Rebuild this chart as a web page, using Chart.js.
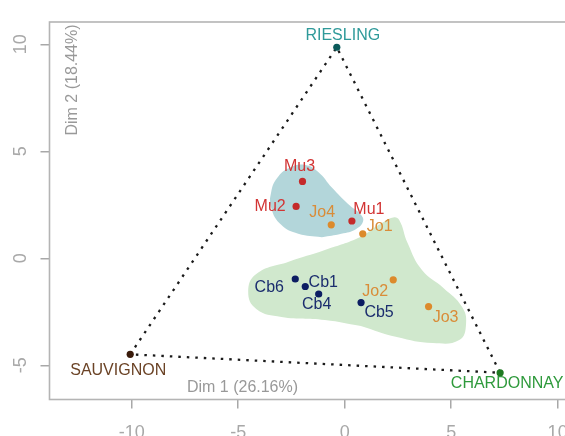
<!DOCTYPE html>
<html lang="fr">
<head>
  <meta charset="UTF-8" />
  <title>AFM - cépages</title>
  <script src="https://cdn.jsdelivr.net/npm/chart.js"></script>
  <style>
    html, body { margin: 0; padding: 0; background: #fff; overflow: hidden; }
    canvas { display: block; }
  </style>
</head>
<body>
  <canvas id="afm" width="620" height="436"></canvas>

  <script>
    // Individus (échantillons) par famille
    const muNames = ['Mu1', 'Mu2', 'Mu3'];
    const muX = [0.34, -2.28, -1.98];
    const muY = [1.74, 2.42, 3.59];

    const joNames = ['Jo1', 'Jo2', 'Jo3', 'Jo4'];
    const joX = [0.85, 2.28, 3.94, -0.63];
    const joY = [1.14, -1.01, -2.26, 1.56];

    const cbNames = ['Cb1', 'Cb4', 'Cb5', 'Cb6'];
    const cbX = [-1.85, -1.22, 0.77, -2.32];
    const cbY = [-1.32, -1.67, -2.07, -0.97];

    // Cépages de référence (sommets du triangle)
    const varietyNames = ['RIESLING', 'SAUVIGNON', 'CHARDONNAY'];
    const varietyX = [-0.37, -10.07, 7.30];
    const varietyY = [9.86, -4.49, -5.35];

    // Contours des groupes (départ au milieu du bord bas)
    const hullMuX = [-1.07, -2.18, -2.98, -3.45, -3.45, -3.17, -2.61, -1.85, -1.24, -0.59, 0.16, 0.73, 0.87, 0.54, -0.16];
    const hullMuY = [0.98, 1.14, 1.56, 2.35, 3.10, 3.75, 4.22, 4.36, 4.03, 3.29, 2.54, 2.07, 1.74, 1.37, 1.14];
    const hullCbX = [0.76, -0.93, -2.97, -4.15, -4.53, -4.15, -2.63, -0.93, 0.76, 1.60, 2.28, 2.56, 2.96, 3.63, 4.65, 5.50, 5.70, 5.38, 4.14, 2.45];
    const hullCbY = [-3.16, -2.88, -2.74, -2.37, -1.57, -0.73, -0.16, 0.39, 1.01, 1.56, 1.91, 1.79, 0.70, -0.55, -1.40, -2.26, -3.07, -3.82, -3.96, -3.68];

    const xTicks = [-10, -5, 0, 5, 10];
    const yTicks = [-5, 0, 5, 10];
    const dim1Label = 'Dim 1 (26.16%)';
    const dim2Label = 'Dim 2 (18.44%)';

    // décalage des étiquettes par rapport au point (px)
    const labelOffset = {
      Mu1: [17, -11], Mu2: [-26, 0], Mu3: [-3, -15],
      Jo1: [17, -7], Jo2: [-18, 12], Jo3: [17, 11], Jo4: [-9, -12],
      Cb1: [18, -4], Cb4: [-2, 11], Cb5: [18, 10], Cb6: [-26, 9],
      RIESLING: [6, -12], SAUVIGNON: [-12, 16], CHARDONNAY: [7, 11]
    };

    const FONT = '"Liberation Sans", Arial, Helvetica, sans-serif';
    const GREY = '#a8a8a8';

    const groups = [
      { names: muNames, xs: muX, ys: muY, dot: '#c42a2a', text: '#d23434' },
      { names: joNames, xs: joX, ys: joY, dot: '#dc8a2c', text: '#d98c38' },
      { names: cbNames, xs: cbX, ys: cbY, dot: '#0c1d62', text: '#1b2d6e' }
    ];
    const varietyDot = ['#0b5b5b', '#3a1b0b', '#1f7a22'];
    const varietyText = ['#2f9a9a', '#6b4326', '#2f9a3c'];

    const toPts = (xs, ys) => xs.map((x, i) => ({ x, y: ys[i] }));
    const closed = pts => pts.concat([pts[0]]);
    const vPts = toPts(varietyX, varietyY);

    // cadre, étiquettes des points et titres des axes dans le cadre
    const annotations = {
      id: 'annotations',
      beforeDatasetsDraw(chart) {
        const { ctx, chartArea: a } = chart;
        ctx.save();
        ctx.strokeStyle = '#b4b4b4';
        ctx.lineWidth = 1.6;
        ctx.strokeRect(a.left, a.top, a.right - a.left, a.bottom - a.top);
        ctx.restore();
      },
      afterDatasetsDraw(chart) {
        const { ctx, chartArea: a, scales: { x, y } } = chart;
        ctx.save();
        ctx.font = '16px ' + FONT;
        ctx.textAlign = 'center';
        ctx.textBaseline = 'middle';
        groups.forEach(g => g.names.forEach((name, i) => {
          const [dx, dy] = labelOffset[name];
          ctx.fillStyle = g.text;
          ctx.fillText(name, x.getPixelForValue(g.xs[i]) + dx, y.getPixelForValue(g.ys[i]) + dy);
        }));
        varietyNames.forEach((name, i) => {
          const [dx, dy] = labelOffset[name];
          ctx.fillStyle = varietyText[i];
          ctx.fillText(name, x.getPixelForValue(varietyX[i]) + dx, y.getPixelForValue(varietyY[i]) + dy);
        });

        ctx.fillStyle = '#999';
        ctx.fillText(dim1Label, a.left + 193, a.bottom - 11.5);
        ctx.translate(a.left + 23, a.top + 58);
        ctx.rotate(-Math.PI / 2);
        ctx.fillText(dim2Label, 0, 0);
        ctx.restore();
      }
    };

    const scatterSets = groups.map(g => ({
      label: g.names.join(','),
      data: toPts(g.xs, g.ys),
      pointRadius: 3.6,
      pointBackgroundColor: g.dot,
      pointBorderWidth: 0,
      order: 1
    }));

    new Chart(document.getElementById('afm'), {
      type: 'scatter',
      data: {
        datasets: [
          ...scatterSets,
          {
            label: 'cépages',
            data: vPts,
            pointRadius: 3.6,
            pointBackgroundColor: varietyDot,
            pointBorderWidth: 0,
            order: 1
          },
          {
            label: 'triangle',
            data: [vPts[1], vPts[0], vPts[2], vPts[1]],
            showLine: true,
            pointRadius: 0,
            borderColor: '#1a1a1a',
            borderWidth: 2.3,
            borderDash: [2.5, 6],
            fill: false,
            order: 5
          },
          {
            label: 'groupe Mu',
            data: closed(toPts(hullMuX, hullMuY)),
            showLine: true,
            fill: 'shape',
            backgroundColor: '#b3d6da',
            borderWidth: 0,
            pointRadius: 0,
            tension: 0.45,
            order: 10
          },
          {
            label: 'groupe Cb',
            data: closed(toPts(hullCbX, hullCbY)),
            showLine: true,
            fill: 'shape',
            backgroundColor: '#d0e8cd',
            borderWidth: 0,
            pointRadius: 0,
            tension: 0.45,
            order: 10
          }
        ]
      },
      options: {
        responsive: false,
        animation: false,
        devicePixelRatio: 1,
        layout: { padding: { top: 22, right: 30, left: 0, bottom: 0 } },
        plugins: { legend: { display: false }, tooltip: { enabled: false } },
        scales: {
          x: {
            type: 'linear',
            min: -13.86,
            max: 11.52,
            afterBuildTicks: s => { s.ticks = xTicks.map(v => ({ value: v })); },
            afterFit: s => { s.height = 36.5; },
            border: { display: false },
            grid: { drawOnChartArea: false, color: GREY, lineWidth: 1.5, tickLength: 9 },
            ticks: { color: GREY, font: { family: FONT, size: 18 }, padding: 14 }
          },
          y: {
            type: 'linear',
            min: -6.60,
            max: 11.04,
            afterBuildTicks: s => { s.ticks = yTicks.map(v => ({ value: v })); },
            afterFit: s => { s.width = 49.5; },
            border: { display: false },
            grid: { drawOnChartArea: false, color: GREY, lineWidth: 1.5, tickLength: 9 },
            ticks: {
              color: GREY,
              font: { family: FONT, size: 18 },
              minRotation: 90,
              maxRotation: 90,
              crossAlign: 'center',
              padding: 9.5
            }
          }
        }
      },
      plugins: [annotations]
    });
  </script>
</body>
</html>
